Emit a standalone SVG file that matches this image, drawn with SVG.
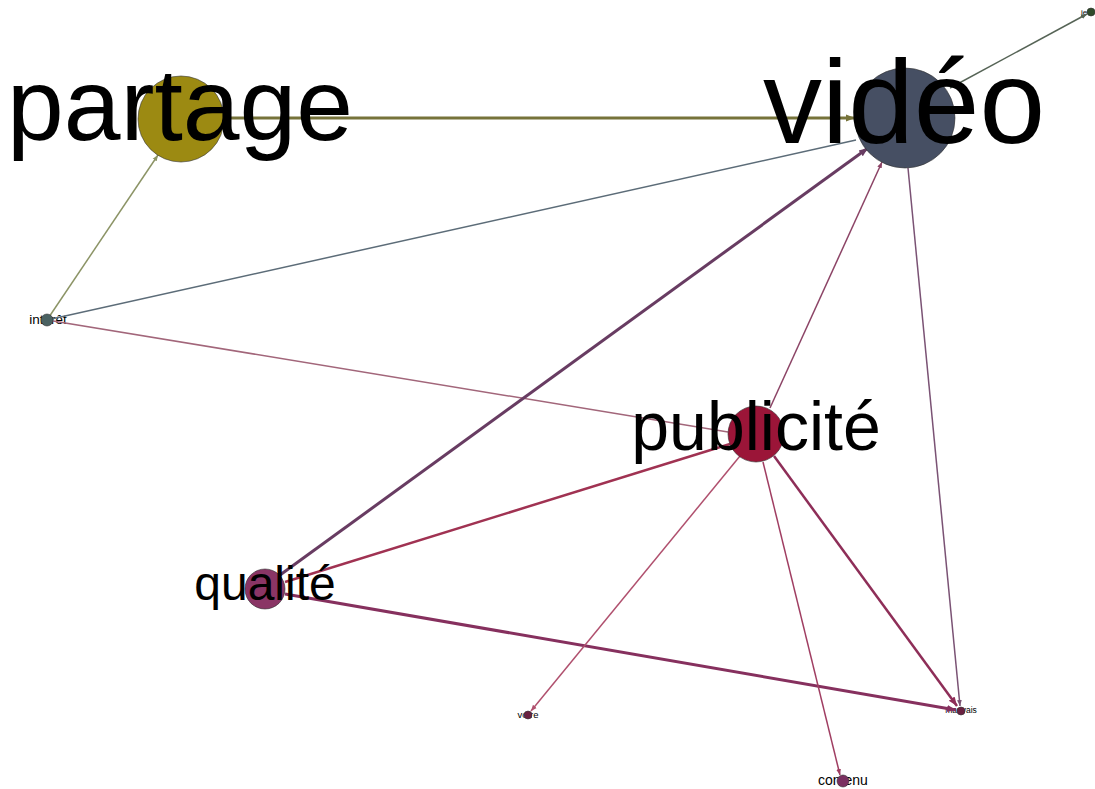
<svg xmlns="http://www.w3.org/2000/svg" width="1095" height="789" viewBox="0 0 1095 789">
<defs>
<style>
.lbl{font-family:"Liberation Sans",Arial,sans-serif;fill:#000;text-anchor:middle}
.e{fill:none}
.n{stroke:#333;stroke-width:0.6}
</style>
<marker id="a2" viewBox="0 0 10 10" refX="10" refY="5" markerWidth="6" markerHeight="6" orient="auto" markerUnits="userSpaceOnUse"><path d="M0,1L10,5L0,9z" fill="context-stroke"/></marker>
<marker id="a3" viewBox="0 0 10 10" refX="10" refY="5" markerWidth="9" markerHeight="9" orient="auto" markerUnits="userSpaceOnUse"><path d="M0,1L10,5L0,9z" fill="context-stroke"/></marker>
</defs>
<rect width="1095" height="789" fill="#fff"/>
<g id="small-labels">
<text class="lbl" x="48" y="324" font-size="13.5">intérêt</text>
<text class="lbl" x="528" y="718" font-size="9.5">votre</text>
<text class="lbl" x="961" y="713" font-size="8.5">mauvais</text>
<text class="lbl" x="843" y="785" font-size="14">contenu</text>
<text class="lbl" x="1084" y="15" font-size="8">je</text>
</g>
<g id="edges">
<line class="e" x1="224" y1="118" x2="855" y2="118" stroke="#76733a" stroke-width="3" marker-end="url(#a3)"/>
<line class="e" x1="47" y1="320" x2="158" y2="155" stroke="#8c9466" stroke-width="1.5" marker-end="url(#a2)"/>
<line class="e" x1="47" y1="320" x2="856" y2="140" stroke="#5c6c78" stroke-width="1.5"/>
<line class="e" x1="47" y1="320" x2="728" y2="432" stroke="#a2667a" stroke-width="1.5"/>
<line class="e" x1="950" y1="88" x2="1087" y2="14" stroke="#566456" stroke-width="1.5" marker-end="url(#a2)"/>
<line class="e" x1="280" y1="575" x2="868" y2="148" stroke="#683c62" stroke-width="3" marker-end="url(#a3)"/>
<line class="e" x1="770" y1="408" x2="882" y2="162" stroke="#8c4466" stroke-width="1.5" marker-end="url(#a2)"/>
<line class="e" x1="908" y1="168" x2="960" y2="706" stroke="#7a5274" stroke-width="1.5" marker-end="url(#a2)"/>
<line class="e" x1="285" y1="582" x2="730" y2="444" stroke="#a03252" stroke-width="2.5"/>
<line class="e" x1="285" y1="594" x2="956" y2="710" stroke="#86305e" stroke-width="3" marker-end="url(#a3)"/>
<line class="e" x1="774" y1="456" x2="957" y2="706" stroke="#8e2e58" stroke-width="2.5" marker-end="url(#a3)"/>
<line class="e" x1="740" y1="456" x2="531" y2="711" stroke="#b0506e" stroke-width="1.5" marker-end="url(#a2)"/>
<line class="e" x1="763" y1="462" x2="840" y2="775" stroke="#a03e62" stroke-width="1.5" marker-end="url(#a2)"/>
</g>
<g id="node-interet"><circle class="n" cx="47" cy="320" r="6" fill="#4a6262"/></g>
<g id="node-votre"><circle class="n" cx="528" cy="715" r="4" fill="#6a2040"/></g>
<g id="node-mauvais"><circle class="n" cx="961" cy="711" r="4" fill="#6a2040"/></g>
<g id="node-contenu"><circle class="n" cx="843" cy="781" r="6" fill="#7a3060"/></g>
<g id="node-je"><circle class="n" cx="1091" cy="12" r="4" fill="#2f4a2a"/></g>
<g id="node-partage"><circle class="n" cx="181" cy="119" r="43" fill="#9c8a12"/><text class="lbl" x="180" y="140" font-size="102">partage</text></g>
<g id="node-video"><circle class="n" cx="905" cy="118" r="50" fill="#464f63"/><text class="lbl" x="904" y="143" font-size="118">vidéo</text></g>
<g id="node-publicite"><circle class="n" cx="756" cy="434" r="28" fill="#9b1538"/><text class="lbl" x="756" y="450" font-size="68">publicité</text></g>
<g id="node-qualite"><circle class="n" cx="265" cy="589" r="20" fill="#8a3565"/><text class="lbl" x="265" y="600" font-size="48">qualité</text></g>
</svg>
